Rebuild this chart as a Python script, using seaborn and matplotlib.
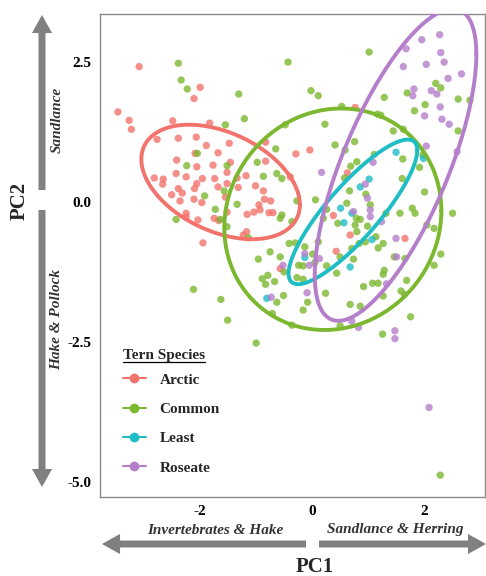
import numpy as np
import pandas as pd
import matplotlib
matplotlib.use("Agg")
import matplotlib.pyplot as plt
import seaborn as sns
from matplotlib.lines import Line2D

sns.set_style("white")
plt.rcParams["font.family"] = ["Liberation Serif", "DejaVu Serif"]
plt.rcParams["font.weight"] = "bold"
plt.rcParams["axes.unicode_minus"] = False

# PC scores, one pair of lists per tern species
arctic_pc1 = [-3.09, -2.00, -2.11, -3.47, -3.27, -3.23, -2.49, -1.83, -2.77, -2.39, -2.07, -1.89,
              -1.48, -2.09, -1.68, -2.42, -2.06, -1.77, -1.46, -2.43, -2.25, -1.52, -2.82, -2.66,
              -2.67, -1.96, -1.74, -1.34, -1.18, -0.83, -0.83, -0.39, -2.06, -2.10, -2.39, -2.32,
              -1.68, -1.52, -1.32, -1.01, -0.87, -2.51, -2.36, -2.11, -1.97, -1.55, -0.85, -0.74,
              -0.95, -0.93, -1.52, -1.16, -1.04, -0.77, -0.70, -2.25, -2.25, -2.04, -1.75, -1.67,
              -1.17, -1.23, -1.95, -0.29, -0.04, 0.77, 0.63, 0.38, 0.68, 1.66, 0.43, -0.57]
arctic_pc2 = [2.42, 2.05, 1.85, 1.61, 1.46, 1.30, 1.45, 1.41, 1.12, 1.14, 1.16, 1.01,
              1.05, 0.87, 0.88, 0.75, 0.63, 0.66, 0.71, 0.51, 0.45, 0.53, 0.43, 0.41,
              0.32, 0.42, 0.42, 0.43, 0.47, 1.07, 0.73, 0.45, 0.33, 0.24, 0.24, 0.16,
              0.27, 0.33, 0.26, 0.29, 0.20, 0.13, 0.02, 0.05, -0.01, 0.09, 0.05, 0.02,
              -0.05, -0.14, -0.18, -0.22, -0.18, -0.19, -0.19, -0.20, -0.27, -0.32, -0.29, -0.33,
              -0.53, -0.59, -0.73, 0.86, 0.93, 1.69, 0.52, -0.24, -0.59, -0.65, -0.88, -1.19]

common_pc1 = [-2.39, -2.34, -2.23, -1.31, -0.43, -1.55, -1.21, -0.48, 1.02, 2.21, 2.30, 1.70,
              -0.02, 0.11, 1.29, 2.61, 2.82, 2.02, 1.83, 0.53, 1.17, 1.23, 0.23, 1.63,
              1.45, 2.61, 0.41, 0.59, 0.76, 1.11, 1.98, 1.62, 1.92, 0.69, 0.80, 0.58,
              1.61, 0.67, 2.01, 0.96, -0.27, 0.06, 0.62, 1.04, 0.26, 1.32, 1.57, 1.79,
              1.84, 2.51, 0.20, 0.79, 0.86, -0.36, 0.46, 0.77, 0.99, 2.05, 2.18, 0.80,
              1.14, -2.05, -2.24, -1.52, -0.65, -0.98, -0.87, -0.63, -0.54, -1.57, -1.92, -1.34,
              -1.73, -0.54, -0.57, -2.43, -1.64, -1.52, -1.14, -0.75, -0.96, -0.57, -0.50, -0.41,
              -0.79, -0.89, -0.83, -0.67, -2.12, -1.63, -1.51, -0.51, -0.63, -0.71, -0.36, -1.00,
              -0.30, 0.11, 0.84, 0.95, 1.18, 1.27, 0.71, -0.13, 0.01, 0.05, 0.50, 0.74,
              0.26, -0.24, -0.16, 1.47, 1.66, 2.30, 2.18, 1.29, 1.27, 0.44, -0.27, -0.16,
              0.92, 1.08, 1.18, 1.69, 1.59, 1.65, 1.27, 0.24, 0.68, 0.86, -0.08, -0.16,
              1.76, 0.50, 1.26, 2.29]
common_pc2 = [2.48, 2.18, 2.02, 1.93, 2.50, 1.38, 1.49, 1.38, 2.68, 2.12, 2.04, 1.95,
              1.99, 1.90, 1.87, 1.84, 1.82, 1.74, 1.63, 1.71, 1.57, 1.55, 1.39, 1.30,
              1.27, 1.27, 1.02, 0.93, 1.08, 0.85, 0.84, 0.77, 0.62, 0.64, 0.72, 0.43,
              0.42, 0.20, 0.18, 0.14, 0.02, 0.04, -0.02, -0.05, -0.13, -0.20, -0.20, -0.11,
              -0.20, -0.20, -0.29, -0.29, -0.31, -0.35, -0.38, -0.41, -0.43, -0.41, -0.47, -0.53,
              -0.62, 0.87, 0.65, 0.65, 0.95, 0.71, 0.46, 0.51, 0.42, 0.20, 0.11, -0.04,
              -0.13, -0.23, -0.29, -0.31, -0.31, -0.44, -0.64, -0.89, -1.02, -0.98, -1.25, -0.74,
              -1.31, -1.37, -1.47, -1.42, -1.56, -1.74, -2.11, -1.67, -1.79, -1.99, -2.20, -2.52,
              -0.73, -0.71, -0.74, -0.71, -0.82, -0.74, -0.83, -0.80, -0.93, -1.08, -0.98, -1.02,
              -1.14, -1.13, -1.14, -0.98, -1.01, -0.93, -1.13, -1.22, -1.29, -1.27, -1.35, -1.38,
              -1.51, -1.45, -1.45, -1.40, -1.59, -1.65, -1.68, -1.63, -1.83, -1.86, -1.79, -1.93,
              -2.05, -2.21, -2.36, -4.88]

least_pc1 = [1.50, 1.99, 1.02, 0.86, 0.51, 0.71, 0.57, 1.07, -0.13, 0.68, -0.81]
least_pc2 = [0.89, 0.78, 0.41, 0.27, -0.11, -0.20, -0.37, -0.67, -0.99, -1.16, -1.72]

roseate_pc1 = [2.28, 1.96, 1.68, 2.30, 2.36, 2.04, 1.63, 2.67, 2.43, 1.82, 2.13, 2.23,
               1.80, 2.29, 2.01, 2.32, 2.45, 2.04, 2.59, 0.17, 0.95, 0.99, 1.04, 0.74,
               1.04, 1.24, 1.50, -0.52, -0.73, -0.13, 0.13, 1.51, 1.33, -0.09, 0.71, 0.83,
               1.48, 1.48, 2.09, -0.05, 1.09]
roseate_pc2 = [2.99, 2.90, 2.74, 2.67, 2.50, 2.46, 2.42, 2.29, 2.21, 2.02, 1.99, 1.93,
               1.90, 1.70, 1.54, 1.48, 1.39, 1.00, 0.90, 0.53, 0.32, 0.07, -0.14, -0.17,
               -0.26, -0.35, -0.65, -1.13, -1.70, -0.92, -1.01, -0.98, -1.46, -1.62, -2.13, -2.24,
               -2.30, -2.44, -3.67, -1.13, 0.71]

species = ["Arctic", "Common", "Least", "Roseate"]
colors = ["#F2736C", "#7CB82F", "#1FBDC6", "#B47ECB"]

x_ticks = [-2, 0, 2]
x_tick_labels = ["-2", "0", "2"]
y_ticks = [2.5, 0.0, -2.5, -5.0]
y_tick_labels = ["2.5", "0.0", "-2.5", "-5.0"]

df = pd.concat([
    pd.DataFrame({"PC1": arctic_pc1, "PC2": arctic_pc2, "Species": "Arctic"}),
    pd.DataFrame({"PC1": common_pc1, "PC2": common_pc2, "Species": "Common"}),
    pd.DataFrame({"PC1": least_pc1, "PC2": least_pc2, "Species": "Least"}),
    pd.DataFrame({"PC1": roseate_pc1, "PC2": roseate_pc2, "Species": "Roseate"}),
], ignore_index=True)
palette = dict(zip(species, colors))


# robust t covariance (like MASS::cov.trob) for the confidence ellipses
def cov_trob(xy, nu=5):
    n, p = xy.shape
    loc = xy.mean(axis=0)
    cov = np.cov(xy.T)
    for _ in range(200):
        d = xy - loc
        q = np.einsum("ij,jk,ik->i", d, np.linalg.inv(cov), d)
        w = (nu + p) / (nu + q)
        new_loc = (w[:, None] * xy).sum(axis=0) / w.sum()
        d = xy - new_loc
        cov = (w[:, None] * d).T @ d / n
        done = np.allclose(new_loc, loc, atol=1e-8)
        loc = new_loc
        if done:
            break
    return loc, cov


def ellipse_path(xy, level=0.77):
    n = len(xy)
    loc, cov = cov_trob(xy)
    dfd = n - 1
    fq = dfd / 2 * ((1 - level) ** (-2 / dfd) - 1)
    radius = np.sqrt(2 * fq)
    t = np.linspace(0, 2 * np.pi, 200)
    circle = np.column_stack([np.cos(t), np.sin(t)])
    chol = np.linalg.cholesky(cov)
    return loc + radius * circle @ chol.T


fig = plt.figure(figsize=(4.86, 5.76), dpi=100)
ax = fig.add_axes([100 / 486, 79 / 576, 385 / 486, 483 / 576])

sns.scatterplot(data=df, x="PC1", y="PC2", hue="Species", palette=palette, hue_order=species,
                s=28, alpha=0.8, edgecolor="none", legend=False, ax=ax, zorder=2)

for sp in species:
    sub = df[df["Species"] == sp][["PC1", "PC2"]].to_numpy()
    e = ellipse_path(sub)
    ax.plot(e[:, 0], e[:, 1], color=palette[sp], lw=2.8, zorder=3, solid_capstyle="round")

ax.set_xlim(-3.79, 3.09)
ax.set_ylim(-5.27, 3.36)
ax.set_xticks(x_ticks)
ax.set_xticklabels(x_tick_labels)
ax.set_yticks(y_ticks)
ax.set_yticklabels(y_tick_labels)
ax.set_xlabel("")
ax.set_ylabel("")
ax.tick_params(axis="both", length=3, width=0.8, color="#555555", labelsize=11,
               labelcolor="black", pad=3)
for lab in ax.get_xticklabels() + ax.get_yticklabels():
    lab.set_fontweight("bold")
for s in ax.spines.values():
    s.set_color("#8a8a8a")
    s.set_linewidth(1.0)

# legend (title drawn separately so it can be underlined)
handles = [Line2D([0], [0], color=c, marker="o", markersize=6, lw=1.5) for c in colors]
leg = ax.legend(handles, species, loc="upper left",
                bbox_to_anchor=(123 / 486, 1 - 373 / 576), bbox_transform=fig.transFigure,
                frameon=False, borderpad=0, borderaxespad=0, handlelength=1.5,
                handletextpad=0.9, labelspacing=1.02,
                prop={"size": 11, "weight": "bold"})
title = fig.text(123 / 486, 1 - 356 / 576, "Tern Species", fontsize=11, fontweight="bold",
                 ha="left", va="center")

# arrows along the axes
arrow_kw = dict(facecolor="#808080", edgecolor="none", width=5, headwidth=14.5,
                headlength=13, shrink=0)
ax.annotate("", xy=(42, 561), xytext=(42, 386), xycoords="figure pixels",
            textcoords="figure pixels", arrowprops=arrow_kw)
ax.annotate("", xy=(42, 89), xytext=(42, 366), xycoords="figure pixels",
            textcoords="figure pixels", arrowprops=arrow_kw)
ax.annotate("", xy=(102, 32), xytext=(306, 32), xycoords="figure pixels",
            textcoords="figure pixels", arrowprops=arrow_kw)
ax.annotate("", xy=(486, 32), xytext=(319, 32), xycoords="figure pixels",
            textcoords="figure pixels", arrowprops=arrow_kw)

fig.text(20 / 486, 1 - 201 / 576, "PC2", rotation=90, fontsize=15, fontweight="bold",
         ha="center", va="center")
fig.text(315 / 486, 1 - 567 / 576, "PC1", fontsize=15, fontweight="bold",
         ha="center", va="center")
fig.text(57 / 486, 1 - 120 / 576, "Sandlance", rotation=90, fontsize=11, fontweight="bold",
         style="italic", color="#333333", ha="center", va="center")
fig.text(57 / 486, 1 - 320 / 576, "Hake & Pollock", rotation=90, fontsize=11,
         fontweight="bold", style="italic", color="#333333", ha="center", va="center")
fig.text(215 / 486, 1 - 531 / 576, "Invertebrates & Hake", fontsize=11, fontweight="bold",
         style="italic", color="#333333", ha="center", va="center")
fig.text(395 / 486, 1 - 530 / 576, "Sandlance & Herring", fontsize=11, fontweight="bold",
         style="italic", color="#333333", ha="center", va="center")

# underline the legend title
fig.canvas.draw()
bb = title.get_window_extent(fig.canvas.get_renderer())
fig.add_artist(Line2D([bb.x0, bb.x1], [bb.y0 + 1, bb.y0 + 1], transform=None,
                      color="black", lw=0.9))

fig.savefig("out.png", dpi=100)
